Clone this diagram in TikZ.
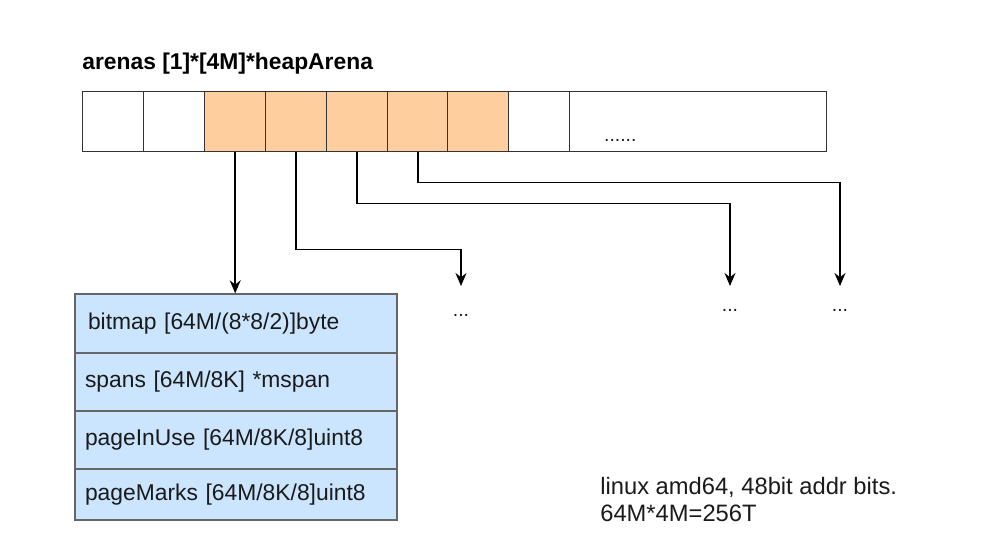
\documentclass[tikz,border=0pt]{standalone}
\usepackage{fontspec}
\setmainfont{Liberation Sans}
\usetikzlibrary{arrows.meta,positioning,calc}
\definecolor{ARLine}{HTML}{333333}
\definecolor{ARBorder}{HTML}{666666}
\definecolor{AROrange}{HTML}{FFCE9F}
\definecolor{ARBlue}{HTML}{CCE5FF}
\definecolor{ARInk}{HTML}{1A1A1A}
\tikzset{
  flow/.style={-{Stealth[length=2.6mm,width=2.2mm]},black,line width=0.8pt},
  cell/.style={draw=ARLine,line width=0.8pt,fill=white,minimum width=1.22cm,
               minimum height=1.2cm,inner sep=0pt,anchor=north west},
  cellhot/.style={cell,fill=AROrange},
  field/.style={draw=ARBorder,line width=0.8pt,fill=ARBlue,minimum width=6.44cm,
                text width=6.04cm,inner xsep=2mm,align=left,text=ARInk,
                font=\fontsize{13}{15}\selectfont},
  label/.style={text=ARInk,font=\fontsize{13.5}{15.3}\selectfont,align=left},
  dots/.style={text=ARInk,font=\fontsize{11}{13}\selectfont},
  biglabel/.style={text=black,font=\fontsize{13}{15}\selectfont\bfseries},
}
\begin{document}
\begin{tikzpicture}[x=0.02cm,y=-0.02cm]
  \useasboundingbox[fill=white] (0,0) rectangle (981,556);

  \node[biglabel,anchor=west,inner sep=0pt] (title) at (82,64) {arenas [1]*[4M]*heapArena};

  % arena slots
  \foreach \i/\xl/\sty in {1/82/cell,2/143/cell,3/204/cellhot,4/265/cellhot,
                          5/326/cellhot,6/387/cellhot,7/447/cellhot,8/508/cell}
    \node[\sty] (c\i) at (\xl,91) {};
  \node[cell,minimum width=5.14cm] (cend) at (569,91) {};
  \node[dots,anchor=base west] (more) at (598,141) {......};

  % heapArena fields
  \node[field,minimum height=1.18cm] (row1) at (236,323.5) {\hspace*{0.6mm}bitmap [64M/(8*8/2)]byte};
  \node[field,minimum height=1.16cm] (row2) at (236,382) {spans [64M/8K] *mspan};
  \node[field,minimum height=1.16cm] (row3) at (236,440) {pageInUse [64M/8K/8]uint8};
  \node[field,minimum height=1.02cm] (row4) at (236,494.5) {pageMarks [64M/8K/8]uint8};

  % other arenas
  \node[dots] (dotsA) at (461,315) {...};
  \node[dots] (dotsB) at (730,310) {...};
  \node[dots] (dotsC) at (840,310) {...};
  \coordinate (tipA) at (461,286);
  \coordinate (tipB) at (730,286);
  \coordinate (tipC) at (840,286);

  \draw[flow] (c3.south) -- (c3.south |- row1.north);
  \draw[flow] (c4.south) -- ++(0,97) -| (tipA);
  \draw[flow] (c5.south) -- ++(0,51) -| (tipB);
  \draw[flow] (c6.south) -- ++(0,30) -| (tipC);

  \node[label,anchor=north west,inner sep=0pt] (note) at (600,477)
    {linux amd64, 48bit addr bits.\\64M*4M=256T};
\end{tikzpicture}
\end{document}
